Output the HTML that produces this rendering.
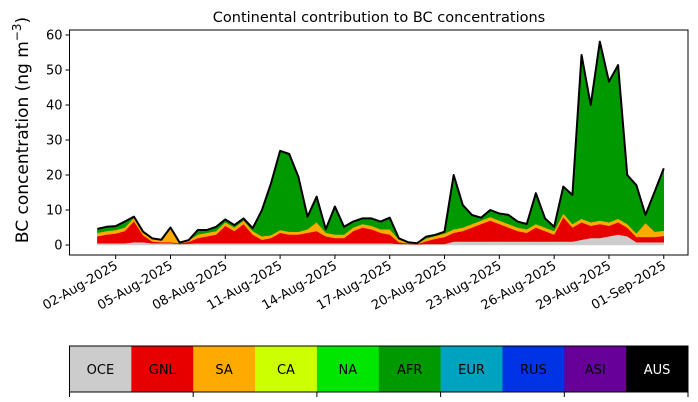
<!DOCTYPE html>
<html><head><meta charset="utf-8"><style>
html,body{margin:0;padding:0;background:#fff;}
svg{display:block;font-family:"DejaVu Sans","Liberation Sans",sans-serif;}
</style></head><body>
<svg id="chart" width="698" height="402" viewBox="0 0 698 402" xmlns="http://www.w3.org/2000/svg">
<text x="379" y="22" font-size="14.5" text-anchor="middle">Continental contribution to BC concentrations</text>
<text transform="translate(28,130) rotate(-90)" font-size="17" text-anchor="middle">BC concentration (ng m<tspan font-size="12" dy="-7">−3</tspan><tspan dy="7">)</tspan></text>
<g id="plot"></g>
<g id="legend"></g>
</svg>
<script>
// half-day samples starting 01-Aug-2025 00:00
const dayOffsets = [0,0.5,1,1.5,2,2.5,3,3.5,4,4.5,5,5.5,6,6.5,7,7.5,8,8.5,9,9.5,10,10.5,11,11.5,12,12.5,13,13.5,14,14.5,15,15.5,16,16.5,17,17.5,18,18.5,19,19.5,20,20.5,21,21.5,22,22.5,23,23.5,24,24.5,25,25.5,26,26.5,27,27.5,28,28.5,29,29.5,30,30.5,31];
const totalBC = [4.6,5.2,5.4,6.7,8.1,3.8,1.9,1.5,5.0,0.7,1.4,4.3,4.3,5.2,7.3,5.7,7.6,4.8,9.9,17.6,26.9,26,19.5,8.1,13.8,4.5,11,5.2,6.7,7.6,7.6,6.7,7.8,1.9,0.8,0.5,2.4,2.9,3.8,20,11.4,8.6,7.8,10,9,8.6,6.7,6.0,14.8,7.6,5.2,16.7,14.3,54.3,40,58.1,46.7,51.4,20,17.1,8.6,15.2,21.9];
const oceBC = [0.5,0.5,0.5,0.5,0.8,0.8,0.5,0.5,0.5,0.3,0.4,0.5,0.5,0.5,0.5,0.5,0.5,0.5,0.5,0.5,0.5,0.5,0.5,0.5,0.5,0.5,0.5,0.5,0.5,0.5,0.5,0.5,0.5,0.3,0.3,0.2,0.3,0.3,0.3,1.0,1.0,1.0,1.0,1.0,1.0,1.0,1.0,1.0,1.0,1.0,1.0,1.0,1.0,1.5,2.0,2.0,2.5,3.0,2.5,0.8,0.8,0.8,0.8];
const gnlBC = [2,2.5,2.8,3.5,6,2.0,0.5,0.3,0.3,0.2,0.5,1.5,2.0,2.5,5.0,3.5,5.5,2.5,1.0,1.5,3.0,2.5,2.5,3.0,3.5,2.0,1.5,1.5,3.5,4.5,4.0,3.0,2.5,0.5,0.2,0.1,0.8,1.5,2.0,2.5,3.0,4.0,5.0,6.0,5.0,4.0,3.0,2.5,4.0,3.0,2.0,7.0,4.0,5.0,3.5,4.0,3.0,3.5,2.5,1.5,1.5,1.5,1.8];
const saBC = [1,1,1,1,1,1,0.8,0.7,4.2,0.2,0.5,1,1,1,1,1,1,1,1,0.8,0.8,0.8,0.8,1,2.5,1,1,1,1,1,1,1,1.5,0.8,0.3,0.2,0.8,0.8,1,1,1,1,1,1,1,1,1,1,1,1,1,1,1,1,1,1,1,1,1,1,4,1.5,1.5];
const tickDates = ["02-Aug-2025","05-Aug-2025","08-Aug-2025","11-Aug-2025","14-Aug-2025","17-Aug-2025","20-Aug-2025","23-Aug-2025","26-Aug-2025","29-Aug-2025","01-Sep-2025"];
const tickDays = [1,4,7,10,13,16,19,22,25,28,31];
const yTicks = [0,10,20,30,40,50,60];
const legendRegions = ["OCE","GNL","SA","CA","NA","AFR","EUR","RUS","ASI","AUS"];
const legendColors = ["#cccccc","#e60000","#ffaa00","#ccff00","#00e600","#009900","#00a3bf","#0033e6","#660099","#000000"];

const NS="http://www.w3.org/2000/svg";
const L=69.5,R=688,T=30,B=255;
const xs=d=>97.4+d*18.27;
const ys=v=>245-v*3.5;
const plot=document.getElementById('plot');
function mk(tag,attrs,parent){const e=document.createElementNS(NS,tag);for(const k in attrs)e.setAttribute(k,attrs[k]);parent.appendChild(e);return e;}

const c1=oceBC.slice(), c2=[], c3=[], c4=[];
for(let i=0;i<dayOffsets.length;i++){c2.push(c1[i]+gnlBC[i]);c3.push(c2[i]+saBC[i]);c4.push(Math.max(c3[i],totalBC[i]));}
function band(lo,hi,color,name){
  let d="";
  for(let i=0;i<dayOffsets.length;i++)d+=(i?"L":"M")+xs(dayOffsets[i]).toFixed(2)+","+ys(hi[i]).toFixed(2);
  for(let i=dayOffsets.length-1;i>=0;i--)d+="L"+xs(dayOffsets[i]).toFixed(2)+","+ys(lo?lo[i]:0).toFixed(2);
  const p=mk('path',{d:d+"Z",fill:color,stroke:color,'stroke-width':0.5},plot);
  
  
}
band(null,c1,"#cccccc","area-oce");
band(c1,c2,"#e60000","area-gnl");
band(c2,c3,"#ffaa00","area-sa");
band(c3,c4,"#009900","area-afr");
let ld="";
for(let i=0;i<dayOffsets.length;i++)ld+=(i?"L":"M")+xs(dayOffsets[i]).toFixed(2)+","+ys(c4[i]).toFixed(2);
const line=mk('path',{d:ld,fill:"none",stroke:"#000",'stroke-width':2,'stroke-linejoin':'round'},plot);



const frame=mk('rect',{x:L,y:T,width:R-L,height:B-T,fill:"none",stroke:"#000",'stroke-width':1},plot);



yTicks.forEach(v=>{
  const y=ys(v);
  const t=mk('line',{x1:L-4,x2:L,y1:y,y2:y,stroke:"#000"},plot);
  
  
  const tx=mk('text',{x:L-7,y:y+4.5,'font-size':13,'text-anchor':'end'},plot);
  tx.textContent=v;
  
  
});
tickDays.forEach((d,i)=>{
  const x=xs(d);
  const t=mk('line',{x1:x,x2:x,y1:B,y2:B+4,stroke:"#000"},plot);
  
  
  const tx=mk('text',{transform:`translate(${x+3},${B+13}) rotate(-30)`,'font-size':13,'text-anchor':'end'},plot);
  tx.textContent=tickDates[i];
  
  
});

const lg=document.getElementById('legend');
const LX=69.5,LY=346,LW=(688-69.5)/10,LH=46;
legendRegions.forEach((r,i)=>{
  const c=mk('rect',{x:LX+i*LW,y:LY,width:LW+0.3,height:LH,fill:legendColors[i]},lg);
  
  
  const t=mk('text',{x:LX+i*LW+LW/2,y:LY+LH/2+5,'font-size':13,'text-anchor':'middle',fill:r==="AUS"?"#fff":"#000"},lg);
  t.textContent=r;
  
  
});
const lf=mk('rect',{x:LX,y:LY,width:688-LX,height:LH,fill:"none",stroke:"#000"},lg);


for(let k=0;k<=5;k++){
  const x=LX+k*2*LW;
  const t=mk('line',{x1:x,x2:x,y1:LY+LH,y2:LY+LH+5,stroke:"#000"},lg);
  
  
}
</script>
</body></html>
